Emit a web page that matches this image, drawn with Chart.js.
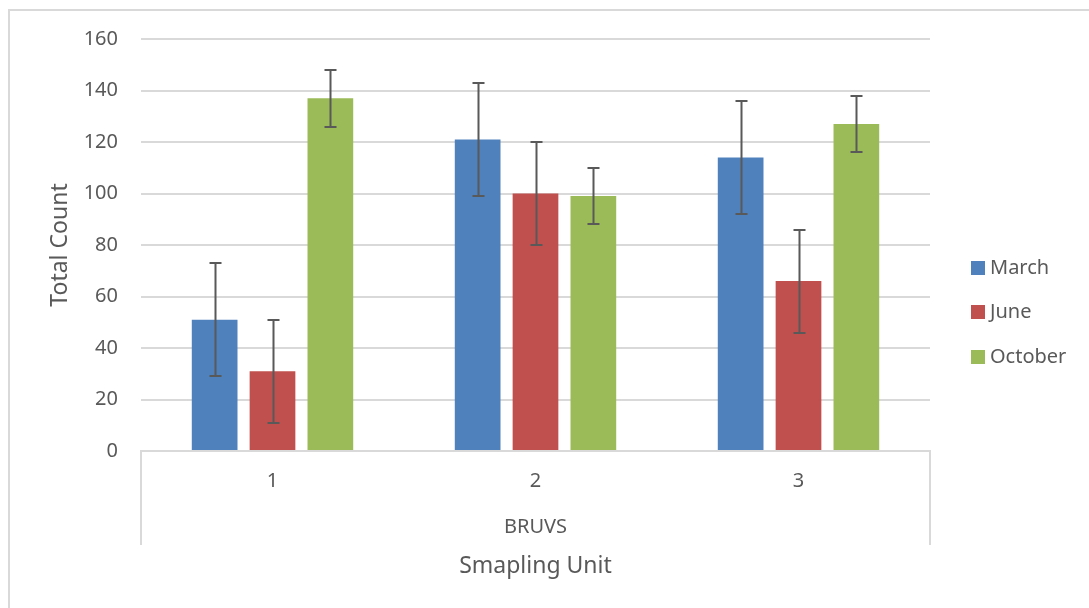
<!DOCTYPE html>
<html>
<head>
<meta charset="utf-8">
<script src="https://cdn.jsdelivr.net/npm/chart.js@4.4.1/dist/chart.umd.min.js"></script>
<style>
  html, body { margin: 0; padding: 0; background: #fff; overflow: hidden; }
  #wrap { position: relative; width: 1089px; height: 608px; }
  #frame { position: absolute; left: 8px; top: 9px; width: 1100px; height: 620px; border: 2px solid #d9d9d9; box-sizing: border-box; }
  #chart { position: absolute; left: 0; top: 0; }
  .legend { position: absolute; left: 971px; font: 20px "Noto Sans", sans-serif; color: #595959; }
  .legend div { position: absolute; height: 24px; line-height: 24px; white-space: nowrap; }
  .legend span { display: inline-block; width: 14px; height: 14px; margin-right: 5px; vertical-align: -1px; }
</style>
</head>
<body>
<div id="wrap">
  <div id="frame"></div>
  <canvas id="chart" width="1089" height="608"></canvas>
  <div class="legend" id="legend"></div>
</div>
<script>
const categories = ['1', '2', '3'];
const groupLabel = 'BRUVS';
const xTitle = 'Smapling Unit';
const yTitle = 'Total Count';

const seriesNames = ['March', 'June', 'October'];
const seriesColors = ['#4F81BD', '#C0504D', '#9BBB59'];

const marchValues = [51, 121, 114];
const juneValues = [31, 100, 66];
const octoberValues = [137, 99, 127];

// symmetric error bar half-lengths
const marchErrors = [22, 22, 22];
const juneErrors = [20, 20, 20];
const octoberErrors = [11, 11, 11];

const TEXT = '#595959';
const GRID = '#d9d9d9';
const FONT = '"Noto Sans", sans-serif';

const seriesValues = [marchValues, juneValues, octoberValues];
const seriesErrors = [marchErrors, juneErrors, octoberErrors];

// legend on the right
const legendEl = document.getElementById('legend');
const legendTops = [255, 299, 344];
seriesNames.forEach((name, i) => {
  const item = document.createElement('div');
  item.style.top = legendTops[i] + 'px';
  item.innerHTML = `<span style="background:${seriesColors[i]}"></span>${name}`;
  legendEl.appendChild(item);
});

const errorBars = {
  id: 'errorBars',
  afterDatasetsDraw(chart) {
    const { ctx, scales: { y } } = chart;
    ctx.save();
    ctx.strokeStyle = '#595959';
    ctx.lineWidth = 2;
    chart.data.datasets.forEach((ds, di) => {
      const meta = chart.getDatasetMeta(di);
      meta.data.forEach((bar, i) => {
        const v = ds.data[i];
        const e = seriesErrors[di][i];
        const top = Math.round(y.getPixelForValue(v + e));
        const bot = Math.round(y.getPixelForValue(v - e));
        const x = Math.round(bar.x) + 0.5;
        ctx.beginPath();
        ctx.moveTo(x, top); ctx.lineTo(x, bot);
        ctx.moveTo(x - 6, top); ctx.lineTo(x + 6, top);
        ctx.moveTo(x - 6, bot); ctx.lineTo(x + 6, bot);
        ctx.stroke();
      });
    });
    ctx.restore();
  }
};

// multi-level category axis, group label and axis titles
const axisDecor = {
  id: 'axisDecor',
  afterDraw(chart) {
    const { ctx, chartArea: a } = chart;
    ctx.save();
    ctx.strokeStyle = GRID;
    ctx.lineWidth = 2;
    ctx.beginPath();
    ctx.moveTo(a.left, a.bottom); ctx.lineTo(a.left, 545);
    ctx.moveTo(a.right, a.bottom); ctx.lineTo(a.right, 545);
    ctx.stroke();

    ctx.fillStyle = TEXT;
    ctx.textAlign = 'center';
    ctx.textBaseline = 'middle';
    const cx = (a.left + a.right) / 2;
    ctx.font = '20px ' + FONT;
    ctx.fillText(groupLabel, cx, 527);
    ctx.font = '23px ' + FONT;
    ctx.fillText(xTitle, cx, 566);

    ctx.translate(60, 245);
    ctx.rotate(-Math.PI / 2);
    ctx.fillText(yTitle, 0, 0);
    ctx.restore();
  }
};

new Chart(document.getElementById('chart'), {
  type: 'bar',
  data: {
    labels: categories,
    datasets: seriesNames.map((name, i) => ({
      label: name,
      data: seriesValues[i],
      backgroundColor: seriesColors[i],
      borderWidth: 0,
      categoryPercentage: 0.66,
      barPercentage: 0.79
    }))
  },
  options: {
    responsive: false,
    animation: false,
    layout: { padding: { left: 0, top: 39, right: 159, bottom: 0 } },
    plugins: { legend: { display: false }, tooltip: { enabled: false } },
    scales: {
      x: {
        grid: { display: false, drawTicks: false },
        border: { display: true, color: GRID, width: 2 },
        ticks: { color: TEXT, font: { family: FONT, size: 20 }, padding: 18 },
        afterFit(scale) { scale.height = 157; }
      },
      y: {
        min: 0,
        max: 160,
        grid: { color: GRID, lineWidth: 2, drawTicks: false },
        border: { display: false },
        ticks: { stepSize: 20, color: TEXT, font: { family: FONT, size: 20 }, padding: 23 },
        afterFit(scale) { scale.width = 141; }
      }
    }
  },
  plugins: [errorBars, axisDecor]
});
</script>
</body>
</html>
